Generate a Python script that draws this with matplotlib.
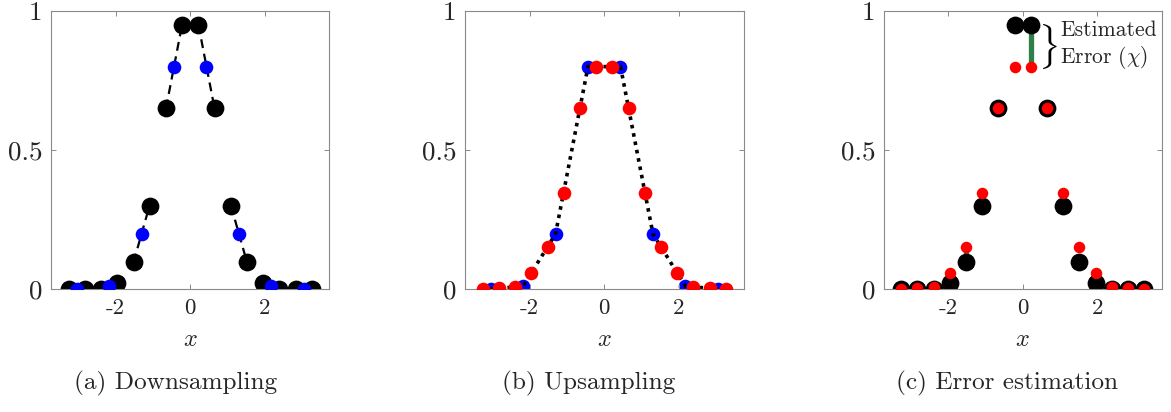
import matplotlib
matplotlib.use("Agg")
import matplotlib.pyplot as plt
import numpy as np

plt.rcParams["font.family"] = "serif"
plt.rcParams["font.serif"] = ["cmr10"]
plt.rcParams["mathtext.fontset"] = "cm"
plt.rcParams["axes.unicode_minus"] = False

# Fine grid samples
x_fine = [-3.26, -2.83, -2.39, -1.96, -1.52, -1.09, -0.65, -0.22,
          0.22, 0.65, 1.09, 1.52, 1.96, 2.39, 2.83, 3.26]
y_fine = [0.0, 0.0, 0.0, 0.02, 0.096, 0.30, 0.65, 0.95,
          0.95, 0.65, 0.30, 0.096, 0.02, 0.0, 0.0, 0.0]

# Coarse grid (pairwise averages)
x_coarse = [-3.045, -2.175, -1.305, -0.435, 0.435, 1.305, 2.175, 3.045]
y_coarse = [0.0, 0.01, 0.198, 0.80, 0.80, 0.198, 0.01, 0.0]

# Coarse solution interpolated back to the fine grid
y_up = [0.0, 0.003, 0.008, 0.056, 0.15, 0.346, 0.65, 0.80,
        0.80, 0.65, 0.346, 0.15, 0.056, 0.008, 0.003, 0.0]

# Points where the error bar is shown
err_idx = [4, 8]

xticks = [-2, 0, 2]
xtick_labels = ["-2", "0", "2"]
yticks = [0, 0.5, 1]
ytick_labels = ["0", "0.5", "1"]
captions = ["(a) Downsampling", "(b) Upsampling", "(c) Error estimation"]

W, H = 1171, 412
fig = plt.figure(figsize=(W / 100, H / 100), dpi=100)

lefts = [51, 465, 883.5]
ax_w, ax_top, ax_bot = 278.5, 11, 289
cap_x = [176, 589, 1007]

BLACK_MS = 12.8
SMALL_MS = 9.8
RED3_MS = 8.3
SPINE = "#8a8a8a"
TXT = "#262626"

axes = []
for i in range(3):
    ax = fig.add_axes([lefts[i] / W, (H - ax_bot) / H, ax_w / W, (ax_bot - ax_top) / H])
    ax.set_xlim(-3.73, 3.73)
    ax.set_ylim(0, 1)
    ax.set_xticks(xticks)
    ax.set_xticklabels(xtick_labels, fontsize=16.5, color=TXT)
    ax.set_yticks(yticks)
    ax.set_yticklabels(ytick_labels, fontsize=19.5, color=TXT)
    ax.tick_params(direction="in", top=True, right=True, length=3.5,
                   width=0.7, color=SPINE)
    ax.tick_params(axis="x", pad=7)
    ax.tick_params(axis="y", pad=6)
    for s in ax.spines.values():
        s.set_color(SPINE)
        s.set_linewidth(0.8)
    ax.set_xlabel("$x$", fontsize=17.5, color=TXT, labelpad=8)
    fig.text(cap_x[i] / W, 1 - 383 / H, captions[i], fontsize=18.2,
             ha="center", va="center", color=TXT)
    axes.append(ax)

# (a) Downsampling: dashed segment within each averaged pair
ax = axes[0]
seg_x, seg_y = [], []
for k in range(0, len(x_fine), 2):
    seg_x += [x_fine[k], x_fine[k + 1], np.nan]
    seg_y += [y_fine[k], y_fine[k + 1], np.nan]
ax.plot(seg_x, seg_y, color="black", lw=1.6, dashes=(4, 2.6), zorder=1)
ax.plot(x_fine, y_fine, "o", color="black", ms=BLACK_MS, mec="none", zorder=2)
ax.plot(x_coarse, y_coarse, "o", color="#0000ff", ms=SMALL_MS, mec="none", zorder=3)

# (b) Upsampling: linear interpolant through coarse values
ax = axes[1]
ax.plot(x_coarse, y_coarse, "o", color="#0000ff", ms=SMALL_MS, mec="none", zorder=1)
ax.plot(x_coarse, y_coarse, color="black", lw=2.6, linestyle=(0, (1.0, 1.35)),
        dash_capstyle="butt", zorder=2)
ax.plot(x_fine, y_up, "o", color="#ff0000", ms=SMALL_MS, mec="none", zorder=3)

# (c) Error estimation
ax = axes[2]
for k in err_idx:
    ax.plot([x_fine[k], x_fine[k]], [y_up[k], y_fine[k]], color="#2f7f48",
            lw=3.8, solid_capstyle="butt", zorder=1)
ax.plot(x_fine, y_fine, "o", color="black", ms=BLACK_MS, mec="none", zorder=2)
ax.plot(x_fine, y_up, "o", color="#ff0000", ms=RED3_MS, mec="none", zorder=3)
ax.text(0.42, 0.872, r"$\}$", fontsize=27, ha="left", va="center", color="black")
ax.text(1.0, 0.875, "Estimated\nError $(\\chi)$", fontsize=15.5, ha="left",
        va="center", color=TXT, linespacing=1.25)

fig.savefig("out.png", dpi=100)
